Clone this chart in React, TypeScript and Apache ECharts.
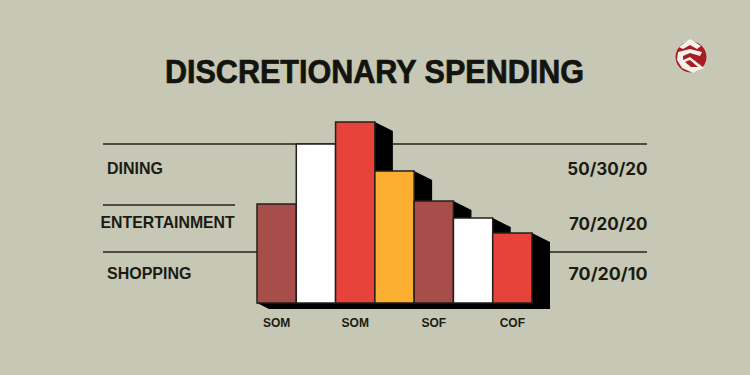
import React, { useEffect, useRef } from "react";
import * as echarts from "echarts";

const title = "DISCRETIONARY SPENDING";
const categories = ["c1", "c2", "c3", "c4", "c5", "c6", "c7"];
const tickLabels = ["SOM", "", "SOM", "", "SOF", "", "COF"];
const values = [99, 159, 181, 132, 102, 85, 70];
const barColors = ["#A84E4A", "#FFFFFF", "#E8433A", "#FBAE2F", "#A84E4A", "#FFFFFF", "#E8433A"];
const leftLabels = ["DINING", "ENTERTAINMENT", "SHOPPING"];
const rightLabels = ["50/30/20", "70/20/20", "70/20/10"];

const FONT = "'Liberation Sans', Arial, sans-serif";
const INK = "#1B1B14";

const hLine = (x1: number, x2: number, y: number) => ({
  type: "line",
  z: 0,
  shape: { x1, y1: y, x2, y2: y },
  style: { stroke: "#23231A", lineWidth: 1.5 },
});
const label = (text: string, x: number, y: number, align: string, size = 16, font = FONT, scaleX = 1) => ({
  type: "text",
  z: 1,
  x,
  y,
  scaleX,
  style: { text, fill: INK, font: `bold ${size}px ${font}`, textAlign: align, textVerticalAlign: "middle" },
});

export default function App() {
  const ref = useRef<HTMLDivElement>(null);
  useEffect(() => {
    const chart = echarts.init(ref.current!, undefined, { renderer: "svg", width: 750, height: 375 });
    chart.setOption({
      animation: false,
      backgroundColor: "#C6C8B5",
      grid: { left: 257, width: 275, top: 103, height: 200 },
      xAxis: {
        type: "category",
        data: categories,
        axisLine: { show: false },
        axisTick: { show: false },
        axisLabel: {
          interval: 0,
          margin: 14,
          color: INK,
          fontFamily: FONT,
          fontWeight: "bold",
          fontSize: 12,
          formatter: (_: string, i: number) => tickLabels[i],
        },
      },
      yAxis: { type: "value", min: 0, max: 200, show: false },
      series: [
        {
          type: "custom",
          z: 3,
          data: values,
          clip: false,
          silent: true,
          renderItem: (_: any, api: any) => {
            const i = api.value(0);
            const top = api.coord([i, api.value(1)]);
            const base = api.coord([i, 0]);
            const w = api.size([1, 0])[0];
            const x0 = top[0] - w / 2;
            const x1 = top[0] + w / 2;
            return {
              type: "polygon",
              shape: {
                points: [
                  [x1, top[1]],
                  [x1 + 18, top[1] + 9],
                  [x1 + 18, base[1] + 6],
                  [x0 + 12, base[1] + 6],
                  [x0, base[1]],
                ],
              },
              style: { fill: "#000" },
            };
          },
        },
        {
          type: "custom",
          z: 4,
          data: values,
          clip: false,
          silent: true,
          renderItem: (_: any, api: any) => {
            const i = api.value(0);
            const top = api.coord([i, api.value(1)]);
            const base = api.coord([i, 0]);
            const w = api.size([1, 0])[0];
            return {
              type: "rect",
              shape: { x: top[0] - w / 2, y: top[1], width: w, height: base[1] - top[1] },
              style: { fill: barColors[i], stroke: "#231F1A", lineWidth: 1.5 },
            };
          },
        },
      ],
      graphic: [
        hLine(103, 647, 144),
        hLine(103, 235, 205),
        hLine(103, 647, 252),
        {
          type: "text",
          z: 1,
          x: 374.5,
          y: 72,
          scaleX: 0.94,
          style: {
            text: title,
            fill: "#14140F",
            stroke: "#14140F",
            lineWidth: 0.7,
            font: `bold 32.5px ${FONT}`,
            textAlign: "center",
            textVerticalAlign: "middle",
          },
        },
        label(leftLabels[0], 107, 168.5, "left"),
        label(leftLabels[1], 100.5, 222, "left", 16, FONT, 0.99),
        label(leftLabels[2], 107, 273.5, "left"),
        label(rightLabels[0], 647.5, 169, "right", 17, "Inter, sans-serif"),
        label(rightLabels[1], 647.5, 224, "right", 17, "Inter, sans-serif"),
        label(rightLabels[2], 647.5, 274, "right", 17, "Inter, sans-serif", 1.05),
        { type: "circle", z: 1, shape: { cx: 691, cy: 57, r: 15.5 }, style: { fill: "#A81C22" } },
        {
          type: "polygon",
          z: 2,
          shape: { points: [[679, 47], [690, 39], [701, 46], [697, 49], [690, 45], [683, 49]] },
          style: { fill: "#F6F1EA" },
        },
        {
          type: "polygon",
          z: 2,
          shape: { points: [[678, 52], [690, 49], [702, 52], [700, 56], [690, 53], [683, 56], [683, 60], [690, 57], [704, 68], [693, 73], [682, 68], [677, 60]] },
          style: { fill: "#F6F1EA" },
        },
        {
          type: "polygon",
          z: 2,
          shape: { points: [[685, 62], [690, 60], [698, 67], [691, 67]] },
          style: { fill: "#A81C22" },
        },
      ],
    });
    return () => chart.dispose();
  }, []);
  return <div ref={ref} style={{ position: "fixed", left: 0, top: 0, width: 750, height: 375 }} />;
}
